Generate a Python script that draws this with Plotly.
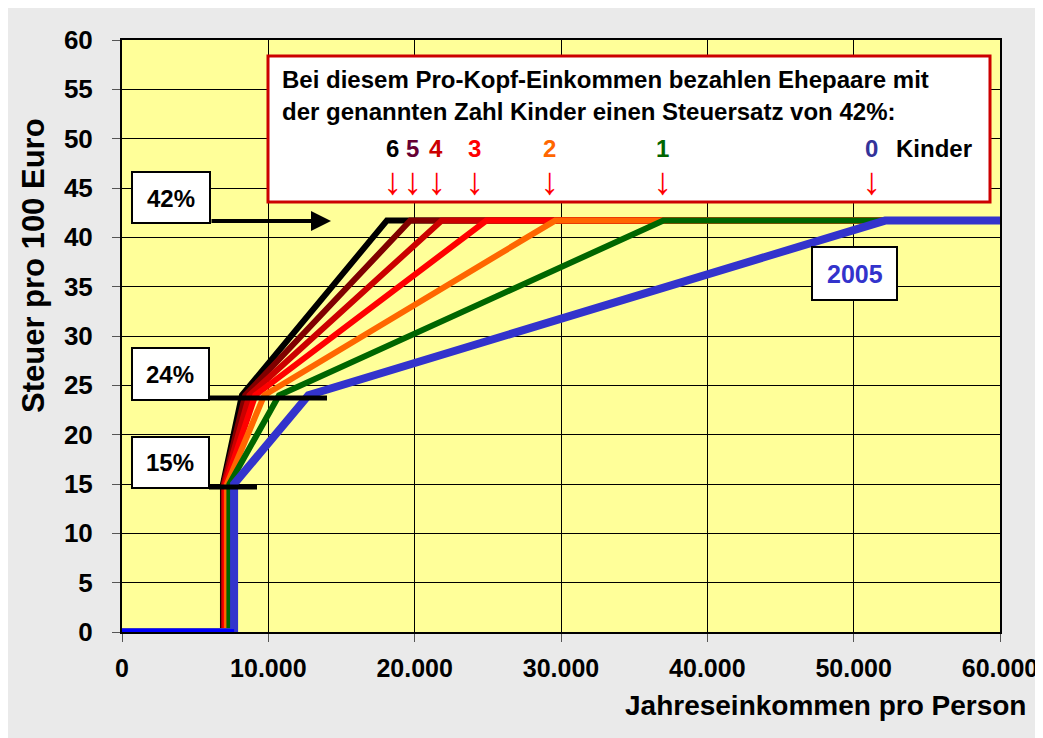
import plotly.graph_objects as go

# ---------------- data ----------------
KINDER = [6, 5, 4, 3, 2, 1, 0]
COLORS = ["#000000", "#800000", "#CC0000", "#FF0000", "#FF6600", "#006600", "#3333CC"]
LABEL_COLORS = ["#000000", "#660033", "#CC0000", "#FF0000", "#FF6600", "#006600", "#333399"]
# per-capita income where the marginal rate jumps to 15 %, reaches 24 %, reaches 42 %
X_EINSTIEG = [6900, 6950, 7000, 7080, 7180, 7340, 7660]
X_24 = [8200, 8420, 8710, 9110, 9720, 10730, 12740]
X_42 = [18100, 19700, 21850, 24900, 29600, 37000, 52150]
X_ENDE = 60000
STEUERSATZ = [0, 15, 24, 41.7]          # Steuer pro 100 Euro at the breakpoints

X_TICKS = [0, 10000, 20000, 30000, 40000, 50000, 60000]
X_TICKTEXT = ["0", "10.000", "20.000", "30.000", "40.000", "50.000", "60.000"]
Y_TICKS = list(range(0, 61, 5))

# ---------------- layout helpers (screen pixel -> paper) ----------------
OFF = 8                      # page body margin of the html page
W, H = 1043 - OFF, 738 - OFF
L, R, T, B = 122, 1000, 40, 632   # plot area on screen


def px(x):
    return (x - L) / (R - L)


def py(y):
    return (B - y) / (B - T)


FONT = "Liberation Sans, Arial, sans-serif"

fig = go.Figure()

for i, n in enumerate(KINDER):
    xs = [0, X_EINSTIEG[i], X_EINSTIEG[i], X_24[i], X_42[i], X_ENDE]
    ys = [STEUERSATZ[0], STEUERSATZ[0], STEUERSATZ[1], STEUERSATZ[2], STEUERSATZ[3], STEUERSATZ[3]]
    fig.add_trace(go.Scatter(
        x=xs, y=ys, mode="lines", name=f"{n} Kinder",
        line=dict(color=COLORS[i], width=8 if n == 0 else 6),
        hoverinfo="skip", showlegend=False,
    ))

# thin blue zero line of the 2005 curve
fig.add_trace(go.Scatter(
    x=[0, X_EINSTIEG[-1]], y=[STEUERSATZ[0], STEUERSATZ[0]], mode="lines",
    line=dict(color="#0000FF", width=6), hoverinfo="skip", showlegend=False,
))

shapes = []
annotations = []


def box(x0, x1, y0, y1, color="#000000", width=2):
    shapes.append(dict(type="rect", xref="paper", yref="paper",
                       x0=px(x0), x1=px(x1), y0=py(y1), y1=py(y0),
                       fillcolor="white", line=dict(color=color, width=width),
                       layer="above"))


def hline(x0, x1, y, width=5):
    shapes.append(dict(type="line", xref="paper", yref="paper",
                       x0=px(x0), x1=px(x1), y0=py(y), y1=py(y),
                       line=dict(color="#000000", width=width), layer="above"))


def text(x, y, s, size, color="#000000", xanchor="center", bold=True, angle=0):
    annotations.append(dict(xref="paper", yref="paper", x=px(x), y=py(y),
                            text=f"<b>{s}</b>" if bold else s, showarrow=False,
                            xanchor=xanchor, yanchor="middle", textangle=angle,
                            font=dict(family=FONT, size=size, color=color)))


# rate boxes
box(132, 210, 172, 223)
text(171, 198, "42%", 24)
box(132, 209, 348, 400)
hline(209, 327, 398)
text(170, 374, "24%", 24)
box(132, 209, 437, 488)
hline(209, 257, 487)
text(170, 463, "15%", 24)

# arrow 42 %
annotations.append(dict(xref="paper", yref="paper", x=px(331), y=py(221),
                        ax=-121, ay=0, text="", showarrow=True,
                        arrowhead=2, arrowsize=1, arrowwidth=4, arrowcolor="#000000"))

# 2005 box
box(812, 897, 247, 300)
text(855, 274, "2005", 25, color="#3333CC")

# big explanation box
box(268, 990, 56, 202, color="#CC0000", width=3)
text(280, 79, "Bei diesem Pro-Kopf-Einkommen bezahlen Ehepaare mit", 24, xanchor="left")
text(280, 111, "der genannten Zahl Kinder einen Steuersatz von 42%:", 24, xanchor="left")
LABEL_X = [392, 412, 436, 474, 549, 662, 871]
for i, n in enumerate(KINDER):
    text(LABEL_X[i], 148, str(n), 24, color=LABEL_COLORS[i])
    text(LABEL_X[i], 181, "↓", 38, color="#FF0000", bold=False)
text(894, 148, "Kinder", 24, xanchor="left")

# axis titles
text(1028, 705, "Jahreseinkommen pro Person", 28, xanchor="right")
text(33, 266, "Steuer pro 100 Euro", 31, angle=-90)

fig.update_layout(
    width=W, height=H,
    margin=dict(l=L - OFF, r=W - (R - OFF), t=T - OFF, b=H - (B - OFF), pad=0,
                autoexpand=False),
    paper_bgcolor="#EAEAEA", plot_bgcolor="#FFFF99",
    shapes=shapes, annotations=annotations,
    showlegend=False,
)
fig.update_xaxes(
    range=[0, 60000], tickvals=X_TICKS, ticktext=X_TICKTEXT,
    showgrid=True, gridcolor="#000000", gridwidth=1, zeroline=False,
    showline=True, linecolor="#000000", linewidth=2, mirror=True,
    ticks="outside", ticklen=8, tickcolor="#555555", tickwidth=1,
    ticklabelstandoff=5, ticklabeloverflow="allow", automargin=False,
    tickfont=dict(family=FONT, size=25, color="#000000", weight="bold"),
)
fig.update_yaxes(
    range=[0, 60], tickvals=Y_TICKS,
    showgrid=True, gridcolor="#000000", gridwidth=1, zeroline=False,
    showline=True, linecolor="#000000", linewidth=2, mirror=True,
    ticks="outside", ticklen=8, tickcolor="#555555", tickwidth=1,
    ticklabelstandoff=14, automargin=False,
    tickfont=dict(family=FONT, size=26, color="#000000", weight="bold"),
)

fig.write_html("out.html")
